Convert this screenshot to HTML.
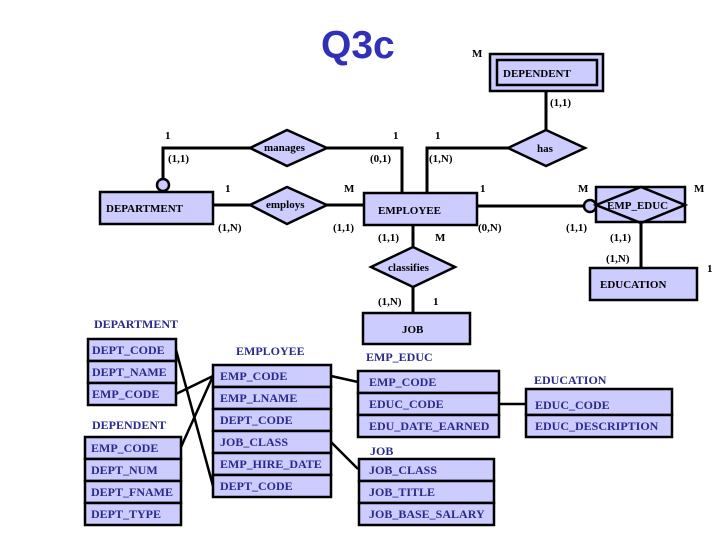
<!DOCTYPE html>
<html><head><meta charset="utf-8"><style>
body{margin:0;background:#fff}
svg{display:block}
.t{font-family:"Liberation Serif",serif;font-weight:bold;font-size:12px;fill:#2a2a8c}
.l{font-family:"Liberation Serif",serif;font-weight:bold;font-size:11px;fill:#000}
.b{fill:#ccccff;stroke:#000;stroke-width:2.5}
.ln{stroke:#000;stroke-width:3;fill:none}
</style></head><body>
<svg width="720" height="540" viewBox="0 0 720 540" xmlns="http://www.w3.org/2000/svg">
<text x="321" y="58" font-family="Liberation Sans,sans-serif" font-weight="bold" font-size="39" fill="#3030b8">Q3c</text>

<!-- connectors ER -->
<g class="ln">
<polyline points="546,91 546,130"/>
<polyline points="509,148 427,148 427,193"/>
<polyline points="250,148 163,148 163,179"/>
<polyline points="327,148 402,148 402,193"/>
<line x1="213" y1="205" x2="250" y2="205"/>
<line x1="327" y1="205" x2="364" y2="205"/>
<line x1="477" y1="206" x2="584" y2="206"/>
<line x1="641" y1="222" x2="641" y2="268"/>
<line x1="413" y1="225" x2="413" y2="247"/>
<line x1="413" y1="287" x2="413" y2="313"/>
</g>
<circle cx="163" cy="185" r="6" fill="#ccccff" stroke="#000" stroke-width="2.5"/>
<circle cx="590" cy="206" r="6" fill="#ccccff" stroke="#000" stroke-width="2.5"/>

<rect class="b" x="490" y="54" width="113" height="37"/>
<rect class="b" x="497" y="60" width="100" height="25"/>
<text class="l" x="503" y="77">DEPENDENT</text>

<polygon class="b" points="508,148 546,130 585,148 546,166"/>
<text class="l" x="537" y="152">has</text>
<polygon class="b" points="250,148 287,130 327,148 287,166"/>
<text class="l" x="264" y="151">manages</text>
<rect class="b" x="100" y="192" width="113" height="32"/>
<text class="l" x="106" y="212">DEPARTMENT</text>
<polygon class="b" points="250,205 287,187 327,205 287,224"/>
<text class="l" x="266" y="208">employs</text>
<rect class="b" x="364" y="193" width="113" height="32"/>
<text class="l" x="378" y="214">EMPLOYEE</text>
<rect class="b" x="596" y="187" width="89" height="35"/>
<polygon points="596,205 641,187 685,205 641,223" fill="none" stroke="#000" stroke-width="2.5"/>
<text class="l" x="607" y="209">EMP_EDUC</text>
<polygon class="b" points="371,267 413,247 455,267 413,287"/>
<text class="l" x="388" y="271">classifies</text>
<rect class="b" x="590" y="268" width="107" height="32"/>
<text class="l" x="600" y="288">EDUCATION</text>
<rect class="b" x="363" y="313" width="107" height="31"/>
<text class="l" x="402" y="333">JOB</text>

<g class="l">
<text x="472" y="57">M</text>
<text x="550" y="106">(1,1)</text>
<text x="165" y="139">1</text>
<text x="168" y="162">(1,1)</text>
<text x="393" y="139">1</text>
<text x="370" y="162">(0,1)</text>
<text x="435" y="139">1</text>
<text x="429" y="162">(1,N)</text>
<text x="225" y="192">1</text>
<text x="218" y="231">(1,N)</text>
<text x="344" y="192">M</text>
<text x="333" y="231">(1,1)</text>
<text x="480" y="192">1</text>
<text x="478" y="231">(0,N)</text>
<text x="578" y="192">M</text>
<text x="566" y="231">(1,1)</text>
<text x="694" y="192">M</text>
<text x="378" y="241">(1,1)</text>
<text x="435" y="241">M</text>
<text x="610" y="241">(1,1)</text>
<text x="606" y="262">(1,N)</text>
<text x="707" y="272">1</text>
<text x="378" y="305">(1,N)</text>
<text x="433" y="305">1</text>
</g>

<!-- table connectors -->
<g stroke="#000" stroke-width="2.5">
<line x1="176" y1="350" x2="213" y2="486"/>
<line x1="176" y1="394" x2="213" y2="376"/>
<line x1="181" y1="447" x2="213" y2="376"/>
<line x1="331" y1="376" x2="358" y2="382"/>
<line x1="331" y1="442" x2="358" y2="469"/>
<line x1="499" y1="404" x2="525" y2="404"/>
</g>

<!-- tables -->
<text class="t" x="94" y="328">DEPARTMENT</text>
<g>
<rect class="b" x="88" y="339" width="88" height="22"/><text class="t" x="92" y="354">DEPT_CODE</text>
<rect class="b" x="88" y="361" width="88" height="22"/><text class="t" x="92" y="376">DEPT_NAME</text>
<rect class="b" x="88" y="383" width="88" height="22"/><text class="t" x="92" y="398">EMP_CODE</text>
</g>
<text class="t" x="92" y="429">DEPENDENT</text>
<rect class="b" x="85" y="437" width="96" height="22"/><text class="t" x="91" y="452">EMP_CODE</text>
<rect class="b" x="85" y="459" width="96" height="22"/><text class="t" x="91" y="474">DEPT_NUM</text>
<rect class="b" x="85" y="481" width="96" height="22"/><text class="t" x="91" y="496">DEPT_FNAME</text>
<rect class="b" x="85" y="503" width="96" height="22"/><text class="t" x="91" y="518">DEPT_TYPE</text>

<text class="t" x="236" y="355">EMPLOYEE</text>
<rect class="b" x="213" y="365" width="118" height="22"/><text class="t" x="220" y="380">EMP_CODE</text>
<rect class="b" x="213" y="387" width="118" height="22"/><text class="t" x="220" y="402">EMP_LNAME</text>
<rect class="b" x="213" y="409" width="118" height="22"/><text class="t" x="220" y="424">DEPT_CODE</text>
<rect class="b" x="213" y="431" width="118" height="22"/><text class="t" x="220" y="446">JOB_CLASS</text>
<rect class="b" x="213" y="453" width="118" height="22"/><text class="t" x="220" y="468">EMP_HIRE_DATE</text>
<rect class="b" x="213" y="475" width="118" height="22"/><text class="t" x="220" y="490">DEPT_CODE</text>

<text class="t" x="366" y="361">EMP_EDUC</text>
<rect class="b" x="358" y="371" width="141" height="22"/><text class="t" x="369" y="386">EMP_CODE</text>
<rect class="b" x="358" y="393" width="141" height="22"/><text class="t" x="369" y="408">EDUC_CODE</text>
<rect class="b" x="358" y="415" width="141" height="22"/><text class="t" x="369" y="430">EDU_DATE_EARNED</text>

<text class="t" x="534" y="384">EDUCATION</text>
<rect class="b" x="526" y="389" width="146" height="26"/><text class="t" x="535" y="409">EDUC_CODE</text>
<rect class="b" x="526" y="415" width="146" height="22"/><text class="t" x="535" y="430">EDUC_DESCRIPTION</text>

<text class="t" x="370" y="455">JOB</text>
<rect class="b" x="359" y="459" width="135" height="22"/><text class="t" x="369" y="474">JOB_CLASS</text>
<rect class="b" x="359" y="481" width="135" height="22"/><text class="t" x="369" y="496">JOB_TITLE</text>
<rect class="b" x="359" y="503" width="135" height="22"/><text class="t" x="369" y="518">JOB_BASE_SALARY</text>
</svg>
</body></html>
